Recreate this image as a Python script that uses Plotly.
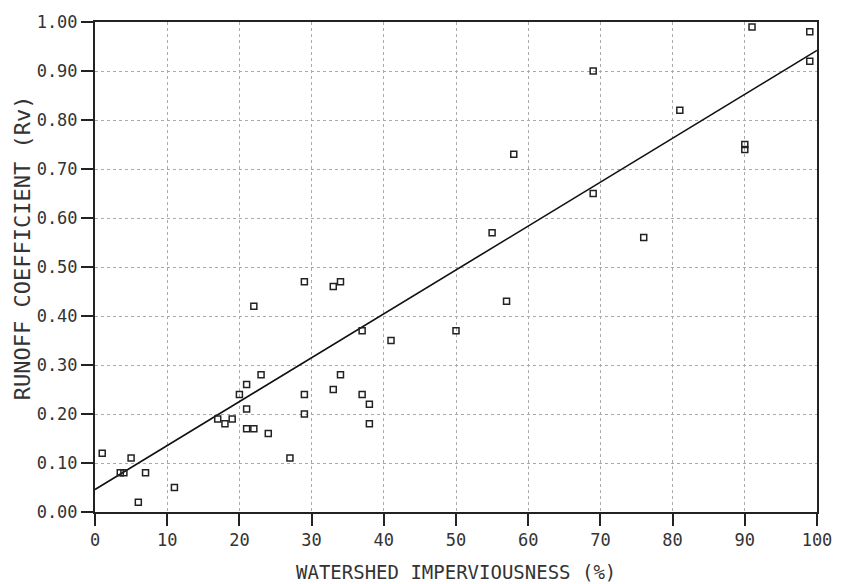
import plotly.graph_objects as go

imperviousness = [1, 3.5, 4, 5, 6, 7, 11, 17, 18, 19, 20, 21, 21, 21, 22, 22, 23, 24, 27,
                  29, 29, 29, 33, 34, 33, 34, 37, 37, 38, 38, 41, 50, 55, 57, 58,
                  69, 69, 76, 81, 90, 90, 91, 99, 99]
runoff_coef = [0.12, 0.08, 0.08, 0.11, 0.02, 0.08, 0.05, 0.19, 0.18, 0.19, 0.24, 0.26, 0.21, 0.17, 0.17, 0.42, 0.28, 0.16, 0.11,
               0.47, 0.24, 0.20, 0.46, 0.47, 0.25, 0.28, 0.37, 0.24, 0.22, 0.18, 0.35, 0.37, 0.57, 0.43, 0.73,
               0.90, 0.65, 0.56, 0.82, 0.75, 0.74, 0.99, 0.98, 0.92]

fit_x = [0, 100]
fit_y = [0.046, 0.942]

x_ticks = [0, 10, 20, 30, 40, 50, 60, 70, 80, 90, 100]
y_ticks = [0.0, 0.1, 0.2, 0.3, 0.4, 0.5, 0.6, 0.7, 0.8, 0.9, 1.0]

FONT = "DejaVu Sans Mono"
INK = "#333333"

fig = go.Figure()
fig.add_trace(go.Scatter(x=fit_x, y=fit_y, mode="lines",
                         line=dict(color="#111111", width=1.6), showlegend=False))
fig.add_trace(go.Scatter(x=imperviousness, y=runoff_coef, mode="markers",
                         marker=dict(symbol="square-open", size=6, color="#222222",
                                     line=dict(color="#222222", width=1.5)),
                         showlegend=False))

axis_common = dict(showline=True, linecolor="#222222", linewidth=2, mirror=True,
                   ticks="outside", ticklen=12, tickwidth=2, tickcolor="#222222",
                   showgrid=True, gridcolor="#aaaaaa", griddash="dot", gridwidth=1,
                   zeroline=False, automargin=False,
                   tickfont=dict(family=FONT, size=17, color=INK))

fig.update_xaxes(range=[0, 100], tickvals=x_ticks, ticktext=[str(v) for v in x_ticks],
                 **axis_common)
fig.update_yaxes(range=[0, 1], tickvals=y_ticks, ticktext=[f"{v:.2f}" for v in y_ticks],
                 **axis_common)

fig.add_annotation(text="WATERSHED IMPERVIOUSNESS (%)", xref="paper", yref="paper",
                   x=0.5, y=-0.122, xanchor="center", yanchor="middle", showarrow=False,
                   font=dict(family=FONT, size=19, color=INK))
fig.add_annotation(text="RUNOFF COEFFICIENT (Rv)", xref="paper", yref="paper",
                   x=-0.1, y=0.54, xanchor="center", yanchor="middle", textangle=-90,
                   showarrow=False, font=dict(family=FONT, size=22, color=INK))

fig.update_layout(width=841, height=584, plot_bgcolor="white", paper_bgcolor="white",
                  margin=dict(l=95, r=24, t=22, b=72))

fig.write_html("out.html", config={"displayModeBar": False},
               post_script="document.body.style.margin='0';")
